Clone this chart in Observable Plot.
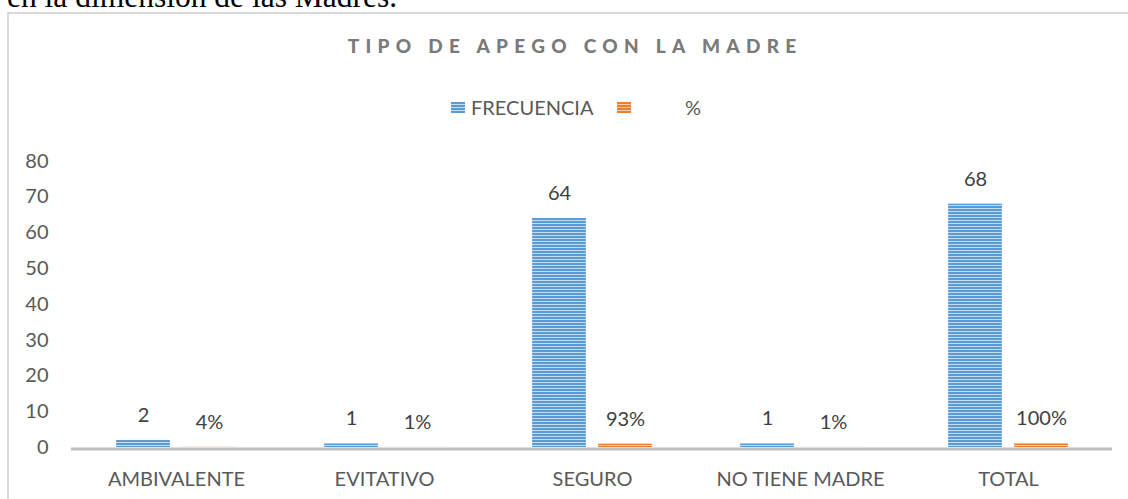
<!DOCTYPE html>
<html>
<head>
<meta charset="utf-8">
<script src="https://cdn.jsdelivr.net/npm/d3@7"></script>
<script src="https://cdn.jsdelivr.net/npm/@observablehq/plot@0.6"></script>
<style>
  html, body { margin: 0; padding: 0; background: #fff; }
  #page { position: relative; width: 1128px; height: 499px; overflow: hidden; background: #fff; }
  #lead { position: absolute; left: 7px; top: -18.6px; font-family: "Liberation Serif", "Times New Roman", serif; font-size: 31.5px; line-height: 32px; color: #000; white-space: nowrap; }
  #frame { position: absolute; left: 7px; top: 12px; width: 1140px; height: 520px; border: 2px solid #d9d9d9; box-sizing: border-box; }
  #title { position: absolute; left: 8px; width: 1128px; top: 35px; text-align: center; font-family: Lato, sans-serif; font-weight: 900; font-size: 19px; line-height: 1.2; letter-spacing: 6.3px; padding-left: 6.3px; box-sizing: border-box; color: #7a7a7a; white-space: nowrap; }
  .leg { position: absolute; font-family: Lato, sans-serif; font-size: 20px; line-height: 1.2; color: #595959; white-space: nowrap; }
  .sw { position: absolute; width: 14px; height: 11px; }
  #chart { position: absolute; left: 0; top: 140px; }
</style>
</head>
<body>
<div id="page">
  <div id="lead">en la dimensión de las Madres.</div>
  <div id="frame"></div>
  <div id="title">TIPO DE APEGO CON LA MADRE</div>
  <div class="sw" style="left:451px; top:102px; background: repeating-linear-gradient(to bottom, #5b9bd5 0 2px, #c5dcf0 2px 3px);"></div>
  <div class="leg" id="leg1" style="left:471px; top:95.4px;">FRECUENCIA</div>
  <div class="sw" style="left:617px; top:102px; background: repeating-linear-gradient(to bottom, #ed7d31 0 2px, #f8cbad 2px 3px);"></div>
  <div class="leg" id="leg2" style="left:685px; top:95.4px;">%</div>
  <div id="chart"></div>
</div>
<script>
// ---- data ----
const categories = ["AMBIVALENTE", "EVITATIVO", "SEGURO", "NO TIENE MADRE", "TOTAL"];
const frecuencia = [2, 1, 64, 1, 68];
const porcentaje = [0.04, 0.01, 0.93, 0.01, 1.00];
const yTicks = [0, 10, 20, 30, 40, 50, 60, 70, 80];

const rows = categories.map((c, i) => ({cat: c, freq: frecuencia[i], pct: porcentaje[i]}));

const W = 1128, H = 359, ml = 71, mr = 16, mt = 20.7, mb = 52;
const B = (W - ml - mr) / categories.length;
const barW = 54, gap = 12;
const half = B / 2;

const chart = Plot.plot({
  width: W,
  height: H,
  marginLeft: ml,
  marginRight: mr,
  marginTop: mt,
  marginBottom: mb,
  style: {fontFamily: "Lato, sans-serif", fontSize: "20px", color: "#595959", background: "transparent", overflow: "visible"},
  x: {domain: categories, padding: 0, label: null, tickSize: 0, tickPadding: 24},
  y: {domain: [0, 80], ticks: yTicks, label: null, tickSize: 0, tickPadding: 23},
  marks: [
    Plot.barY(rows, {x: "cat", y: "freq", fill: "url(#pBlue)", insetLeft: half - gap / 2 - barW, insetRight: half + gap / 2}),
    Plot.barY(rows, {x: "cat", y: "pct", fill: "url(#pOrange)", insetLeft: half + gap / 2, insetRight: half - gap / 2 - barW}),
    Plot.ruleY([0], {stroke: "#bfbfbf", strokeWidth: 3, dy: 1.5}),
    Plot.text(rows, {x: "cat", y: "freq", text: d => String(d.freq), dx: -(gap / 2 + barW / 2), dy: -25, fill: "#404040", fontSize: 20}),
    Plot.text(rows, {x: "cat", y: "pct", text: d => Math.round(d.pct * 100) + "%", dx: gap / 2 + barW / 2, dy: -25, fill: "#404040", fontSize: 20})
  ]
});

const ns = "http://www.w3.org/2000/svg";
const defs = document.createElementNS(ns, "defs");
function pattern(id, c1, c2) {
  const p = document.createElementNS(ns, "pattern");
  p.setAttribute("id", id);
  p.setAttribute("patternUnits", "userSpaceOnUse");
  p.setAttribute("width", 10);
  p.setAttribute("height", 3);
  const r1 = document.createElementNS(ns, "rect");
  r1.setAttribute("width", 10); r1.setAttribute("height", 3); r1.setAttribute("fill", c1);
  const r2 = document.createElementNS(ns, "rect");
  r2.setAttribute("y", 2); r2.setAttribute("width", 10); r2.setAttribute("height", 1); r2.setAttribute("fill", c2);
  p.appendChild(r1); p.appendChild(r2);
  defs.appendChild(p);
}
pattern("pBlue", "#5b9bd5", "#c5dcf0");
pattern("pOrange", "#ed7d31", "#f8cbad");
chart.insertBefore(defs, chart.firstChild);

document.getElementById("chart").appendChild(chart);
</script>
</body>
</html>
